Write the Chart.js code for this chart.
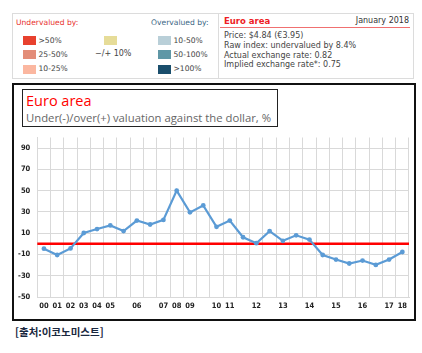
<!DOCTYPE html>
<html>
<head>
<meta charset="utf-8">
<script src="https://cdn.jsdelivr.net/npm/chart.js@4"></script>
<style>
  body { margin: 0; background: #fff; width: 422px; height: 353px; overflow: hidden; position: relative; }
  .abs { position: absolute; white-space: nowrap; }
  .t { font-family: "DejaVu Sans", Verdana, sans-serif; font-size: 8px; line-height: 10px; color: #444; }
  .s { font-size: 7.6px; }
  .sw { position: absolute; width: 13px; height: 9px; }
</style>
</head>
<body>
<!-- top info panel -->
<div class="abs" style="left:12px;top:13px;width:402px;height:66px;border:1px solid #dcdcdc;box-sizing:border-box;"></div>
<div class="abs" style="left:218px;top:13px;width:1px;height:66px;background:#dcdcdc;"></div>

<div class="abs t s" style="left:16px;top:17.5px;color:#e8312e;">Undervalued by:</div>
<div class="abs t s" style="left:151px;top:17.5px;color:#3b6684;">Overvalued by:</div>

<div class="sw" style="left:23px;top:36px;background:#e8412e;"></div>
<div class="abs t s" style="left:38.5px;top:35.5px;">&gt;50%</div>
<div class="sw" style="left:23px;top:50px;background:#e38d78;"></div>
<div class="abs t s" style="left:38.5px;top:49.5px;">25-50%</div>
<div class="sw" style="left:23px;top:64.5px;background:#fbb7a0;"></div>
<div class="abs t s" style="left:38.5px;top:64px;">10-25%</div>

<div class="sw" style="left:103.5px;top:36px;background:#e6dc98;"></div>
<div class="abs t" style="left:95px;top:49px;">&minus;/+ 10%</div>

<div class="sw" style="left:158px;top:36px;background:#b9cfd8;"></div>
<div class="abs t s" style="left:173.5px;top:35.5px;">10-50%</div>
<div class="sw" style="left:158px;top:50px;background:#5f97a6;"></div>
<div class="abs t s" style="left:173.5px;top:49.5px;">50-100%</div>
<div class="sw" style="left:158px;top:64.5px;background:#1a4e6c;"></div>
<div class="abs t s" style="left:173.5px;top:64px;">&gt;100%</div>

<div class="abs t" style="left:224px;top:16px;color:#ee1c25;font-weight:bold;font-size:8.5px;">Euro area</div>
<div class="abs t" style="right:13px;top:16px;color:#333;">January 2018</div>
<div class="abs" style="left:220px;top:27px;width:190px;height:1px;background:#f07070;"></div>
<div class="abs t" style="left:224px;top:31px;">Price: $4.84 (&euro;3.95)</div>
<div class="abs t" style="left:224px;top:40.7px;">Raw index: undervalued by 8.4%</div>
<div class="abs t" style="left:224px;top:50.5px;">Actual exchange rate: 0.82</div>
<div class="abs t" style="left:224px;top:60px;">Implied exchange rate*: 0.75</div>

<!-- chart box -->
<div class="abs" style="left:12px;top:83px;width:404px;height:238px;border:2px solid #111;box-sizing:border-box;"></div>
<canvas id="chart1" width="400" height="192" style="position:absolute;left:13px;top:126px;"></canvas>
<div class="abs" style="left:22px;top:89px;width:256px;height:38px;border:1px solid #222;box-sizing:border-box;background:#fff;z-index:2;">
  <div class="abs" style="left:3px;top:2px;font-family:'Open Sans','Noto Sans',sans-serif;font-size:14.5px;line-height:18px;color:#ff0000;">Euro area</div>
  <div class="abs" style="left:3px;top:20px;font-family:'Open Sans','Noto Sans',sans-serif;font-size:11.3px;line-height:15px;color:#666;">Under(-)/over(+) valuation against the dollar, %</div>
</div>

<div class="abs" style="left:15px;top:324px;font-family:'Noto Sans CJK KR',sans-serif;font-weight:bold;font-size:10.5px;line-height:15px;color:#1a2840;">[출처:이코노미스트]</div>

<script>
// chart values
let xLabels = ['00','01','02','03','04','05','','06','','07','08','09','','10','11','','12','','13','','14','','15','','16','','17','18'];
let valuation = [-4.6,-10.5,-4.3,10.2,13.9,17.3,12.0,21.9,18.2,22.5,50.0,29.6,36.1,16.0,21.9,6.2,0.6,12.0,2.8,8.0,4.0,-10.5,-14.8,-18.5,-15.7,-19.8,-14.8,-7.7];
let yTicks = [-50,-30,-10,10,30,50,70,90];
let yMin = -50;
let yMax = 100;

let axisFont = { family: "'DejaVu Sans Condensed', 'DejaVu Sans', sans-serif", size: 7.5, weight: 'bold' };

// red zero line across the plot
let zeroLine = {
    id: 'zeroLine',
    beforeDatasetsDraw(chart) {
        let ctx = chart.ctx;
        let area = chart.chartArea;
        let y = chart.scales.y.getPixelForValue(0);
        ctx.save();
        ctx.strokeStyle = '#ff0000';
        ctx.lineWidth = 2.5;
        ctx.beginPath();
        ctx.moveTo(area.left, y);
        ctx.lineTo(area.right, y);
        ctx.stroke();
        ctx.restore();
    }
};

let ctx = document.getElementById('chart1').getContext('2d');
let chart1 = new Chart(ctx, {
    type: 'line',
    data: {
        labels: xLabels,
        datasets: [{
            data: valuation,
            borderColor: '#5b9bd5',
            backgroundColor: '#5b9bd5',
            borderWidth: 2.2,
            pointRadius: 2.4,
            pointBackgroundColor: '#5b9bd5',
            pointBorderWidth: 0,
            tension: 0
        }]
    },
    options: {
        responsive: false,
        animation: false,
        layout: { padding: { left: 0, right: 2.3, top: 8, bottom: 3 } },
        plugins: { legend: { display: false }, tooltip: { enabled: false } },
        scales: {
            x: {
                offset: true,
                grid: { color: '#d9d9d9', lineWidth: 1, drawTicks: false, offset: true },
                border: { display: true, color: '#d9d9d9' },
                ticks: { autoSkip: false, maxRotation: 0, font: axisFont, color: '#222', padding: 5 },
                afterFit: function (scale) { scale.height = 18; }
            },
            y: {
                min: yMin,
                max: yMax,
                afterBuildTicks: function (scale) {
                    scale.ticks = yTicks.map(function (v) { return { value: v }; });
                },
                grid: { color: '#d9d9d9', lineWidth: 1, drawTicks: false },
                border: { display: true, color: '#d9d9d9' },
                ticks: { font: axisFont, color: '#222', padding: 7 },
                afterFit: function (scale) { scale.width = 24.3; }
            }
        }
    },
    plugins: [zeroLine]
});
</script>
</body>
</html>
